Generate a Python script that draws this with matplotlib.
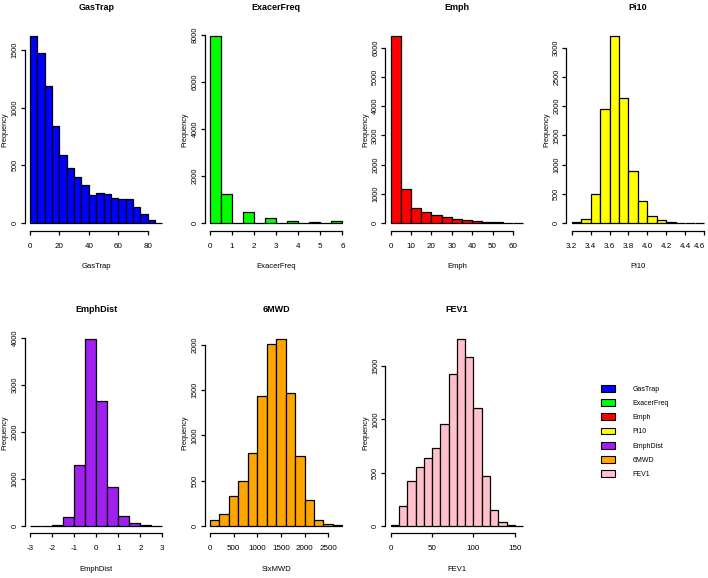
import numpy as np
import matplotlib
matplotlib.use("Agg")
import matplotlib.pyplot as plt
from matplotlib.patches import Patch
from matplotlib.transforms import ScaledTranslation

# bin edges and counts
gastrap_breaks = np.arange(0, 95, 5)
gastrap_counts = [1620, 1470, 1190, 840, 590, 480, 400, 330, 240, 260,
                  250, 220, 205, 205, 135, 75, 25, 2]

exacer_breaks = np.arange(0, 6.5, 0.5)
exacer_counts = [7950, 1230, 0, 480, 0, 230, 0, 100, 0, 40, 0, 90]

emph_breaks = np.arange(0, 70, 5)
emph_counts = [6400, 1150, 510, 390, 270, 220, 150, 110, 80, 50, 25, 8, 3]

pi10_breaks = np.round(np.arange(3.2, 4.65, 0.1), 1)
pi10_counts = [10, 65, 500, 1950, 3200, 2140, 890, 370, 125, 45, 20, 8, 3, 2]

emphdist_breaks = np.arange(-3, 3.5, 0.5)
emphdist_counts = [0, 2, 25, 190, 1300, 3980, 2660, 820, 200, 55, 10, 2]

sixmwd_breaks = np.arange(0, 3000, 200)
sixmwd_counts = [60, 130, 330, 500, 800, 1440, 2010, 2070, 1470, 770,
                 280, 60, 15, 3]

fev1_breaks = np.arange(0, 170, 10)
fev1_counts = [5, 185, 420, 555, 635, 730, 960, 1430, 1760, 1590, 1110,
               470, 145, 35, 10, 2]

titles = ["GasTrap", "ExacerFreq", "Emph", "Pi10", "EmphDist", "6MWD", "FEV1"]
xlabels = ["GasTrap", "ExacerFreq", "Emph", "Pi10", "EmphDist", "SixMWD", "FEV1"]
colors = ["#0000FF", "#00FF00", "#FF0000", "#FFFF00", "#A020F0", "#FFA500", "#FFC0CB"]

xticks = [np.arange(0, 90, 20), np.arange(0, 7, 1), np.arange(0, 70, 10),
          np.round(np.arange(3.2, 4.7, 0.2), 1), np.arange(-3, 4, 1),
          np.arange(0, 3000, 500), np.arange(0, 200, 50)]
yticks = [np.arange(0, 2000, 500), np.arange(0, 10000, 2000), np.arange(0, 7000, 1000),
          np.arange(0, 3500, 500), np.arange(0, 5000, 1000), np.arange(0, 2500, 500),
          np.arange(0, 2000, 500)]

breaks = [gastrap_breaks, exacer_breaks, emph_breaks, pi10_breaks,
          emphdist_breaks, sixmwd_breaks, fev1_breaks]
counts = [gastrap_counts, exacer_counts, emph_counts, pi10_counts,
          emphdist_counts, sixmwd_counts, fev1_counts]

plt.rcParams["font.family"] = ["Liberation Sans", "DejaVu Sans"]

W, H = 708, 578
fig = plt.figure(figsize=(W / 100, H / 100), dpi=100)

col_left = [24.7, 204.7, 385.4, 566.4]
row_top = [28.5, 331.2]
pw, ph = 143, 202

for i in range(7):
    r, c = divmod(i, 4)
    ax = fig.add_axes([col_left[c] / W, 1 - (row_top[r] + ph) / H, pw / W, ph / H])
    b = np.asarray(breaks[i], dtype=float)
    n = np.asarray(counts[i], dtype=float)
    ax.bar(b[:-1], n, width=np.diff(b), align="edge", color=colors[i],
           edgecolor="black", linewidth=0.9)
    # R-style 4% padding around the data range
    xr = b[-1] - b[0]
    ax.set_xlim(b[0] - 0.04 * xr, b[-1] + 0.04 * xr)
    ym = n.max()
    ax.set_ylim(-0.04 * ym, ym * 1.04)
    ax.set_xticks(xticks[i])
    ax.set_yticks(yticks[i])
    ax.tick_params(axis="x", length=3, width=0.9, pad=5.8)
    ax.tick_params(axis="y", length=3, width=0.9, pad=1.5)
    xl = ax.set_xticklabels([f"{v:g}" if i != 3 else f"{v:.1f}" for v in xticks[i]],
                            fontsize=5.8)
    ax.set_yticklabels([f"{v:g}" for v in yticks[i]], fontsize=5.3,
                       rotation=90, va="center")
    if i == 3:
        # keep the last label inside the figure
        xl[-1].set_transform(xl[-1].get_transform() +
                             ScaledTranslation(-5 / 100, 0, fig.dpi_scale_trans))
    for s in ["top", "right"]:
        ax.spines[s].set_visible(False)
    ax.spines["left"].set_bounds(yticks[i][0], yticks[i][-1])
    ax.spines["bottom"].set_bounds(xticks[i][0], xticks[i][-1])
    for s in ["left", "bottom"]:
        ax.spines[s].set_linewidth(0.9)
    ax.set_title(titles[i], fontsize=6.5, fontweight="bold", pad=13.5)
    ax.set_xlabel(xlabels[i], fontsize=5.5, labelpad=9.5)
    ax.set_ylabel("Frequency", fontsize=5.3, labelpad=2)

handles = [Patch(facecolor=col, edgecolor="black", linewidth=0.8) for col in colors]
fig.legend(handles, titles, loc="upper left", bbox_to_anchor=(600.7 / W, 1 - 385 / H),
           frameon=False, prop={"size": 5},
           handlelength=2.1, handleheight=1.15, handletextpad=2.5,
           labelspacing=0.92, borderpad=0, borderaxespad=0)

fig.savefig("out.png", dpi=100)
